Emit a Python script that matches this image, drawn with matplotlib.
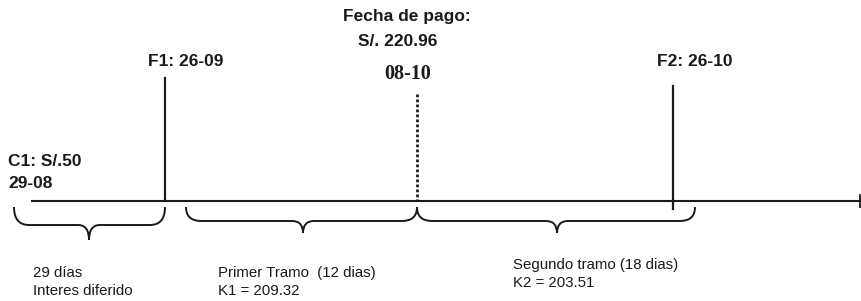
import matplotlib.pyplot as plt
from matplotlib.path import Path
from matplotlib.patches import PathPatch

# linea de tiempo (posiciones en el dibujo, origen arriba a la izquierda)
line_start = 32
line_end = 860
line_y = 201

# fechas marcadas sobre la linea
event_x = [165, 417, 673]
event_top = [78, 94, 86]
event_bottom = [201, 201, 209]
event_style = ['-', (0, (1, 0.8)), '-']

# llaves bajo la linea: inicio, fin, punta
brace_x0 = [14, 186, 417]
brace_x1 = [165, 417, 695]
brace_xc = [89, 303, 557]
brace_flat = [225, 221, 221]
brace_tip = [240, 233, 233]

# textos de cada tramo
tramo_text = [["29 días", "Interes diferido"],
              ["Primer Tramo  (12 dias)", "K1 = 209.32"],
              ["Segundo tramo (18 dias)", "K2 = 203.51"]]
tramo_pos = [(33, 273), (218, 273), (513, 265)]

c1_text = ["C1: S/.50", "29-08"]
f1_text = "F1: 26-09"
f2_text = "F2: 26-10"
pago_text = ["Fecha de pago:", "S/. 220.96"]
pago_fecha = "08-10"

ink = '#1a1a1a'

fig = plt.figure(figsize=(8.62, 3.01), dpi=100)
ax = fig.add_axes([0, 0, 1, 1])
ax.set_xlim(0, 862)
ax.set_ylim(301, 0)
ax.axis('off')

# linea principal y tope derecho
ax.plot([line_start, line_end], [line_y, line_y], color=ink, lw=1.5)
ax.plot([line_end, line_end], [195, 207], color=ink, lw=1.3)

# lineas verticales de fechas
for x, t, b, s in zip(event_x, event_top, event_bottom, event_style):
    ax.plot([x, x], [t, b], color=ink, lw=1.6 if s == '-' else 2.0, linestyle=s)


def brace(x0, x1, xc, ytop, yflat, ytip, r=15, r2=11):
    verts = [(x0, ytop), (x0, yflat), (x0 + r, yflat),
             (xc - r2, yflat),
             (xc, yflat), (xc, ytip),
             (xc, yflat), (xc + r2, yflat),
             (x1 - r, yflat),
             (x1, yflat), (x1, ytop)]
    codes = [Path.MOVETO, Path.CURVE3, Path.CURVE3,
             Path.LINETO,
             Path.CURVE3, Path.CURVE3,
             Path.CURVE3, Path.CURVE3,
             Path.LINETO,
             Path.CURVE3, Path.CURVE3]
    ax.add_patch(PathPatch(Path(verts, codes), fill=False, edgecolor=ink, lw=1.4))


for x0, x1, xc, yf, yt in zip(brace_x0, brace_x1, brace_xc, brace_flat, brace_tip):
    brace(x0, x1, xc, 207, yf, yt)

for lines, (x, y) in zip(tramo_text, tramo_pos):
    ax.text(x, y, lines[0], fontsize=10.8, color=ink, va='center', ha='left',
            family='Liberation Sans')
    ax.text(x, y + 18, lines[1], fontsize=10.8, color=ink, va='center', ha='left',
            family='Liberation Sans')

bold = dict(fontsize=12.5, fontweight='bold', color=ink, family='Liberation Sans', va='center')
ax.text(8, 161, c1_text[0], ha='left', **bold)
ax.text(8, 184, c1_text[1], ha='left', **bold)
ax.text(186, 61, f1_text, ha='center', **bold)
ax.text(695, 61, f2_text, ha='center', **bold)
ax.text(407, 17, pago_text[0], ha='center', **bold)
ax.text(398, 42, pago_text[1], ha='center', **bold)
ax.text(408, 74, pago_fecha, ha='center', va='center', fontsize=14.5,
        fontweight='bold', family='Liberation Serif', color=ink)

fig.savefig('out.png', dpi=100)
